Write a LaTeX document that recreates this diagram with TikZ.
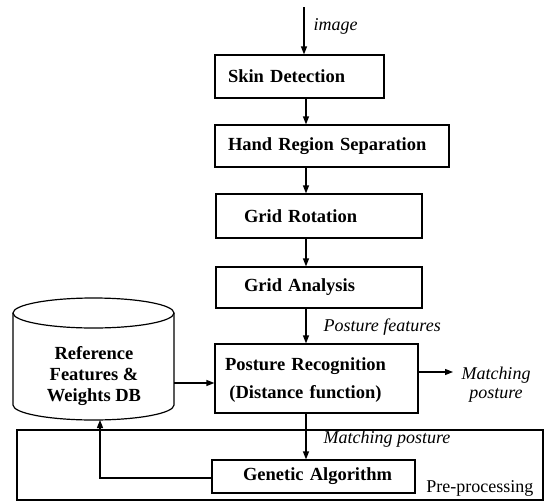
\documentclass[tikz,border=0pt]{standalone}
\usepackage{fontspec}
\setmainfont{Liberation Serif}
\usetikzlibrary{arrows.meta}
\begin{document}
\begin{tikzpicture}[x=1pt,y=1pt,
  line width=1.2pt,
  arr/.style={-{Triangle[length=8pt,width=6pt]}},
  box/.style={draw, inner ysep=0pt, align=left, font=\fontsize{18.5}{21}\selectfont\bfseries},
  ital/.style={inner sep=0pt, font=\fontsize{18}{19}\selectfont\itshape},
  plain/.style={inner sep=0pt, font=\fontsize{18}{21}\selectfont}]
\useasboundingbox (0,0) rectangle (547,-504);
% outer pre-processing frame
\node[draw, minimum width=526pt, minimum height=70pt, inner sep=0pt] (pre) at (280,-465) {};
\node[plain, anchor=base east] (pretxt) at (534,-492) {Pre-processing};
% boxes
\node[box, minimum height=43pt, inner xsep=13pt, text width=143pt] (skin) at (299.5,-76.5) {Skin Detection};
\node[box, minimum height=42pt, inner xsep=13pt, text width=208pt] (hand) at (332,-146) {Hand Region Separation};
\node[box, minimum height=44pt, inner xsep=28pt, text width=150pt] (rot) at (319,-216) {Grid Rotation};
\node[box, minimum height=41pt, inner xsep=28pt, text width=150pt] (ana) at (319,-287.5) {Grid Analysis};
\node[box, minimum height=69pt, inner xsep=10pt, text width=183pt, font=\fontsize{18.5}{28}\selectfont\bfseries] (pr) at (316.5,-378.5) {\begin{tabular}{@{}c@{}}Posture Recognition\\(Distance function)\end{tabular}};
\node[box, minimum height=33pt, inner xsep=31pt, text width=141pt] (ga) at (313.5,-476.5) {\mbox{Genetic Algorithm}};
% database cylinder
\draw (13,-313) -- (13,-405) arc (180:360:80.5pt and 15pt) -- (174,-313);
\draw (93.5,-313) ellipse (80.5pt and 15pt);
\node[align=center, inner sep=0pt, font=\fontsize{18.5}{21}\selectfont\bfseries] (db) at (94,-376) {Reference\\Features \&\\Weights DB};
% coordinates
\coordinate (in) at (304,-7);
\coordinate (ax) at (306,0);
\coordinate (mr) at (453,-372);
\coordinate (dbr) at (174,-383);
\coordinate (dbb) at (100,-420);
% labels
\node[ital, anchor=base west] (limg) at (313,-30) {image};
\node[ital, anchor=base west] (lpf) at (323,-331) {Posture features};
\node[ital, align=center] (lmp) at (496,-385) {Matching\\posture};
\node[ital, anchor=base west] (lmp2) at (323,-443) {Matching posture};
% connectors
\draw[arr] (in) -- (in |- skin.north);
\draw[arr] (skin.south -| ax) -- (hand.north -| ax);
\draw[arr] (hand.south -| ax) -- (rot.north -| ax);
\draw[arr] (rot.south -| ax) -- (ana.north -| ax);
\draw[arr] (ana.south -| ax) -- (pr.north -| ax);
\draw[arr] (pr.south -| ax) -- (ga.north -| ax);
\draw[arr] (pr.east |- mr) -- (mr);
\draw[arr] (dbr) -- (dbr -| pr.west);
\draw[arr] (ga.west |- 0,-478) -| (dbb);
\end{tikzpicture}
\end{document}
